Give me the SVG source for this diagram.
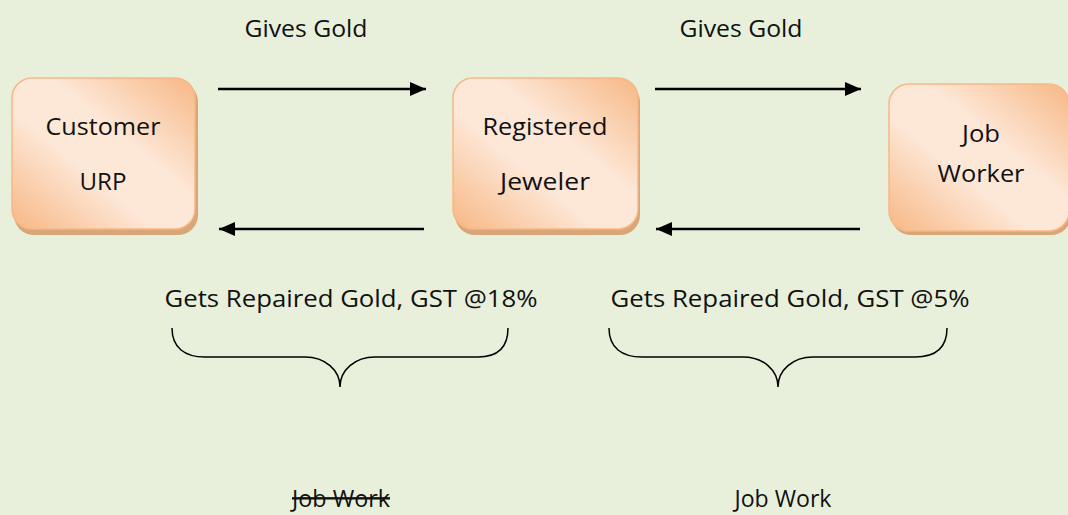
<svg xmlns="http://www.w3.org/2000/svg" width="1068" height="515" viewBox="0 0 1068 515">
  <defs>
    <linearGradient id="peach" x1="1" y1="0" x2="0" y2="1">
      <stop offset="0" stop-color="#F7B784"/>
      <stop offset="0.4" stop-color="#FDE8D8"/>
      <stop offset="0.6" stop-color="#FDE8D8"/>
      <stop offset="1" stop-color="#F7B784"/>
    </linearGradient>
    <marker id="head" viewBox="0 0 16 14" refX="16" refY="7" markerWidth="16" markerHeight="14" markerUnits="userSpaceOnUse" orient="auto">
      <path d="M0,0 L16,7 L0,14 Z" fill="#000"/>
    </marker>
  </defs>
  <style>
    .box { fill: url(#peach); stroke: #F6B886; stroke-width: 1.5; }
    .shadow { fill: #D9A679; }
    .lbl { font-family: "Open Sans", "Noto Sans", sans-serif; font-size: 24px; fill: #111; text-anchor: middle; }
    .conn { stroke: #000; stroke-width: 2.5; fill: none; }
    .brace { stroke: #000; stroke-width: 1.5; fill: none; }
  </style>

  <rect width="1068" height="515" fill="#E8F0DC"/>

  <g id="customer">
    <rect class="shadow" x="14" y="82" width="184" height="153" rx="20"/>
    <rect class="box" x="12" y="78" width="183" height="151" rx="20"/>
    <text class="lbl" x="103" y="135" textLength="115" lengthAdjust="spacingAndGlyphs">Customer</text>
    <text class="lbl" x="103" y="190" textLength="47" lengthAdjust="spacingAndGlyphs">URP</text>
  </g>

  <g id="jeweler">
    <rect class="shadow" x="455" y="82" width="185" height="153" rx="20"/>
    <rect class="box" x="453" y="78" width="185" height="151" rx="20"/>
    <text class="lbl" x="545" y="135" textLength="125" lengthAdjust="spacingAndGlyphs">Registered</text>
    <text class="lbl" x="545" y="190" textLength="90" lengthAdjust="spacingAndGlyphs">Jeweler</text>
  </g>

  <g id="jobworker">
    <rect class="shadow" x="891" y="88" width="180" height="147" rx="20"/>
    <rect class="box" x="889" y="84" width="180" height="147" rx="20"/>
    <text class="lbl" x="981" y="142" textLength="38" lengthAdjust="spacingAndGlyphs">Job</text>
    <text class="lbl" x="981" y="182" textLength="87" lengthAdjust="spacingAndGlyphs">Worker</text>
  </g>

  <g id="connectors">
    <line class="conn" x1="218" y1="89" x2="426" y2="89" marker-end="url(#head)"/>
    <line class="conn" x1="655" y1="89" x2="861" y2="89" marker-end="url(#head)"/>
    <line class="conn" x1="424" y1="229" x2="219" y2="229" marker-end="url(#head)"/>
    <line class="conn" x1="860" y1="229" x2="656" y2="229" marker-end="url(#head)"/>
  </g>

  <g id="labels">
    <text class="lbl" x="306" y="37" textLength="123" lengthAdjust="spacingAndGlyphs">Gives Gold</text>
    <text class="lbl" x="741" y="37" textLength="123" lengthAdjust="spacingAndGlyphs">Gives Gold</text>
    <text class="lbl" x="351" y="307" textLength="373" lengthAdjust="spacingAndGlyphs">Gets Repaired Gold, GST @18%</text>
    <text class="lbl" x="790" y="307" textLength="359" lengthAdjust="spacingAndGlyphs">Gets Repaired Gold, GST @5%</text>
  </g>

  <g id="braces">
    <path class="brace" d="M172,328 C172,348 185,357 205,357 L305,357 C325,357 340,370 340,387 C340,370 355,357 375,357 L478,357 C498,357 508,348 508,328"/>
    <path class="brace" d="M609,328 C609,348 622,357 642,357 L743,357 C763,357 778,370 778,387 C778,370 793,357 813,357 L915,357 C935,357 947,348 947,328"/>
  </g>

  <g id="jobwork">
    <text class="lbl" x="341" y="507" textLength="98" lengthAdjust="spacingAndGlyphs" text-decoration="line-through">Job Work</text>
    <text class="lbl" x="783" y="507" textLength="97" lengthAdjust="spacingAndGlyphs">Job Work</text>
  </g>
</svg>
